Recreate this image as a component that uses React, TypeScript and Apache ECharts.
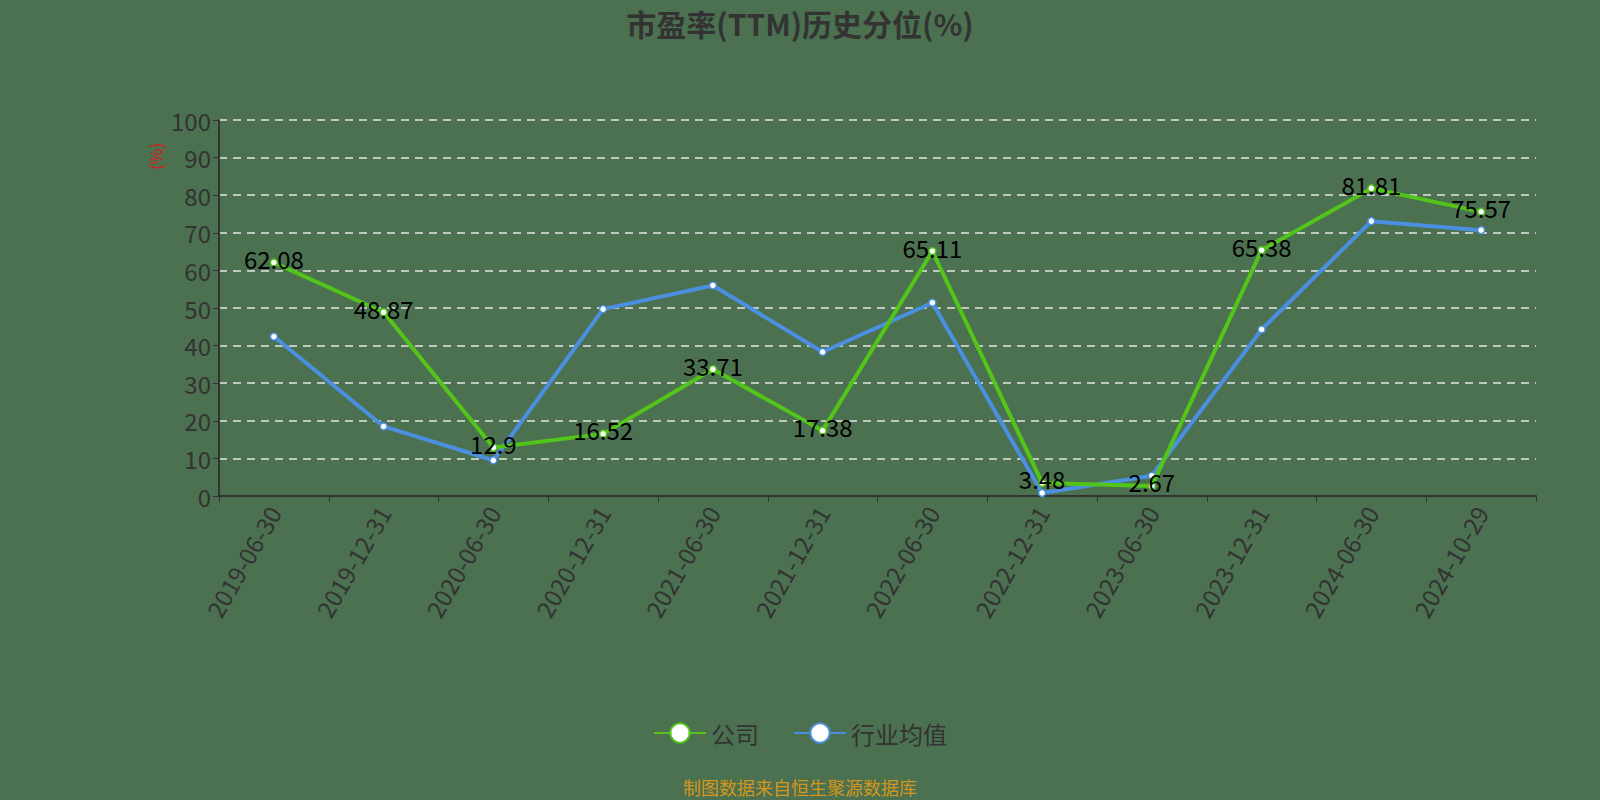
import React, { useEffect, useRef } from 'react';
import * as echarts from 'echarts';

const dates = ['2019-06-30', '2019-12-31', '2020-06-30', '2020-12-31', '2021-06-30', '2021-12-31', '2022-06-30', '2022-12-31', '2023-06-30', '2023-12-31', '2024-06-30', '2024-10-29'];
const companyValues = [62.08, 48.87, 12.9, 16.52, 33.71, 17.38, 65.11, 3.48, 2.67, 65.38, 81.81, 75.57];
const industryValues = [42.4, 18.5, 9.5, 49.7, 56.0, 38.3, 51.4, 0.8, 5.4, 44.3, 73.1, 70.7];

const FONT = '"Noto Sans CJK SC", "Noto Sans", sans-serif';

export default function App() {
  const ref = useRef<HTMLDivElement | null>(null);

  useEffect(() => {
    document.body.style.margin = '0';
    if (!ref.current) return;
    const chart = echarts.init(ref.current, null, { renderer: 'svg' });
    chart.setOption({
      animation: false,
      backgroundColor: '#4b7150',
      textStyle: { fontFamily: FONT },
      title: {
        text: '市盈率(TTM)历史分位(%)',
        left: 'center',
        top: 3,
        textStyle: { fontSize: 30, fontWeight: 'bold', color: '#333', fontFamily: FONT },
      },
      graphic: [
        {
          type: 'text',
          left: 'center',
          top: 778,
          style: { text: '制图数据来自恒生聚源数据库', fill: '#d4961c', fontSize: 18, fontFamily: FONT },
        },
        {
          type: 'text',
          x: 147,
          y: 170,
          rotation: Math.PI / 2,
          style: { text: '(%)', fill: '#d0201a', fontSize: 17, fontFamily: FONT },
        },
      ],
      legend: {
        bottom: 50,
        left: 'center',
        itemWidth: 52,
        itemHeight: 24,
        itemGap: 34,
        textStyle: { fontSize: 24, color: '#333', fontFamily: FONT },
        data: ['公司', '行业均值'],
      },
      grid: { left: 219, right: 64, top: 120, bottom: 304 },
      xAxis: {
        type: 'category',
        data: dates,
        boundaryGap: true,
        axisLine: { lineStyle: { color: '#333', width: 2 } },
        axisTick: { show: true, lineStyle: { color: '#333' }, length: 6 },
        axisLabel: { rotate: 60, fontSize: 24, color: '#333', margin: 12, interval: 0 },
      },
      yAxis: {
        type: 'value',
        min: 0,
        max: 100,
        interval: 10,
        axisLine: { show: true, lineStyle: { color: '#333', width: 2 } },
        axisTick: { show: true, lineStyle: { color: '#333' }, length: 6 },
        axisLabel: { fontSize: 24, color: '#333', margin: 8 },
        splitLine: { lineStyle: { type: [8, 6], color: '#e6e6e6', width: 1.5 } },
      },
      series: [
        {
          name: '公司',
          type: 'line',
          data: companyValues,
          symbol: 'circle',
          symbolSize: 7,
          color: '#52c41a',
          lineStyle: { width: 4, color: '#52c41a' },
          itemStyle: { color: '#fff', borderColor: '#52c41a', borderWidth: 1.5 },
          label: { show: true, position: 'inside', offset: [0, -4], fontSize: 24, color: '#000', fontFamily: FONT },
          z: 3,
        },
        {
          name: '行业均值',
          type: 'line',
          data: industryValues,
          symbol: 'circle',
          symbolSize: 7,
          color: '#4a8fe0',
          lineStyle: { width: 4, color: '#4a8fe0' },
          itemStyle: { color: '#fff', borderColor: '#4a8fe0', borderWidth: 1.5 },
          z: 2,
        },
      ],
    });
    return () => {
      chart.dispose();
    };
  }, []);

  return <div ref={ref} style={{ width: 1600, height: 800 }} />;
}
